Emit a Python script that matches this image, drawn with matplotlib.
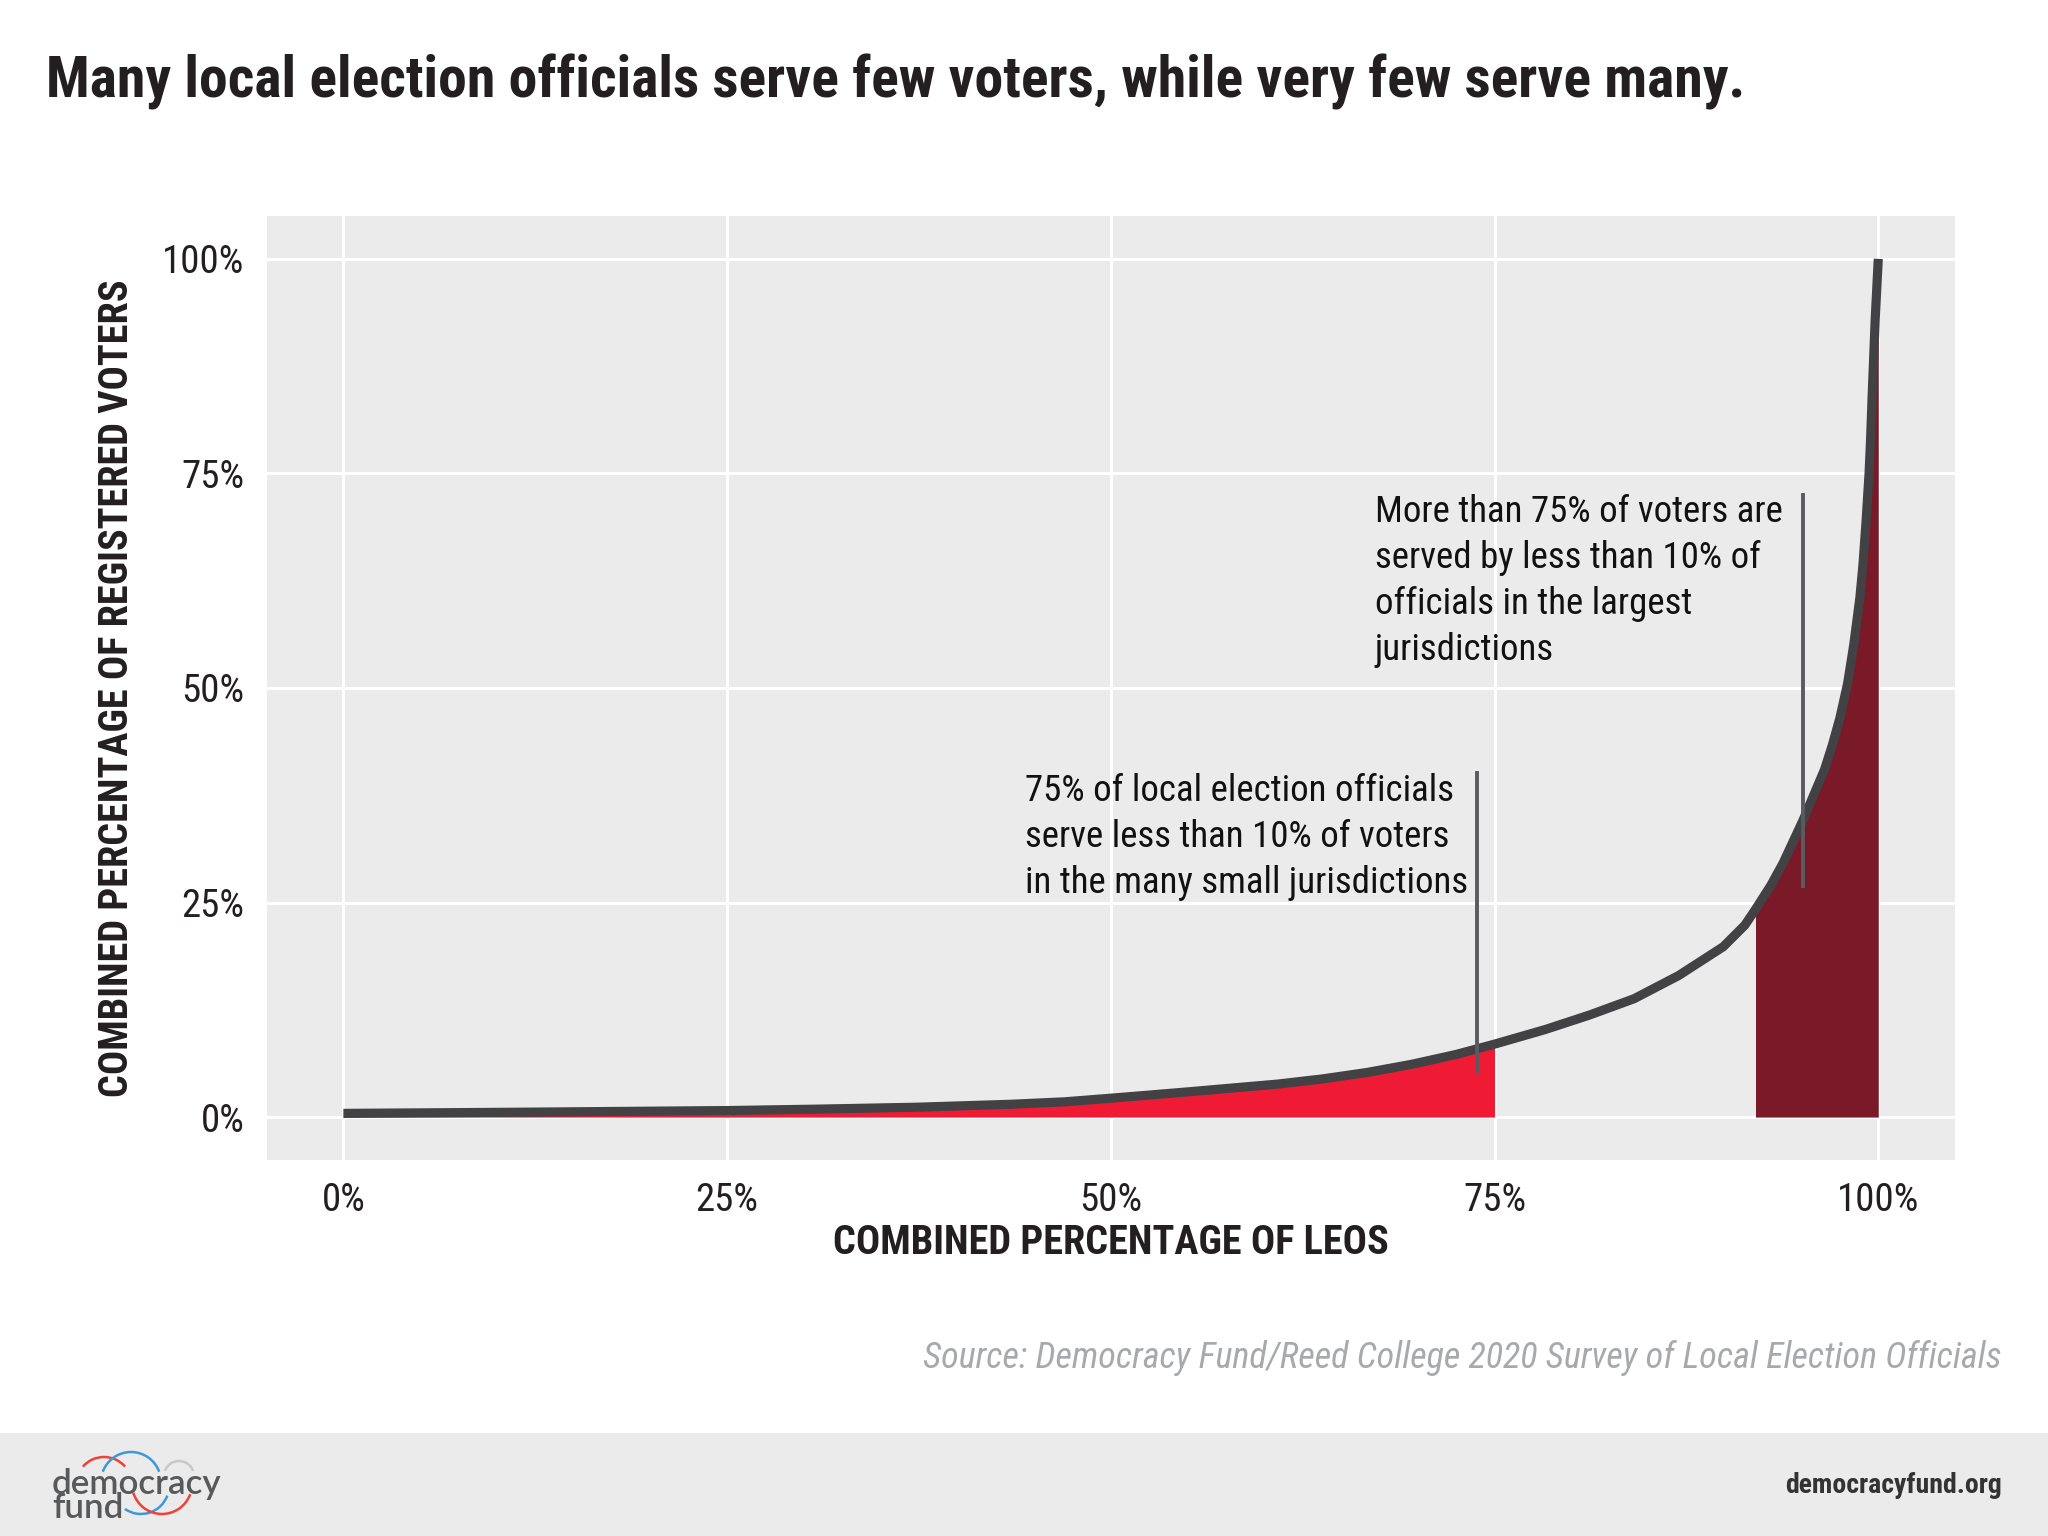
from matplotlib import pyplot as plt
from matplotlib import font_manager
from matplotlib.patches import Arc, Rectangle

# share of LEOs (x) vs share of registered voters (y)
leo_pct = [0, 12.5, 25, 31, 37.4, 43.6, 47, 50, 52.2, 55.1, 58, 60.9, 63.8,
           66.7, 69.6, 72.5, 75, 78.3, 81.2, 84.1, 87, 89.9, 91.3, 92, 93,
           93.8, 95.1, 96.5, 97.0, 97.5, 98.0, 98.4, 98.8, 99.0, 99.2, 99.4,
           99.5, 99.6, 99.8, 100]
voter_pct = [0.43, 0.58, 0.76, 0.93, 1.15, 1.5, 1.78, 2.2, 2.52, 2.95, 3.4,
             3.85, 4.45, 5.2, 6.15, 7.3, 8.5, 10.2, 11.9, 13.8, 16.5, 19.85,
             22.35, 24.2, 27.0, 29.6, 34.6, 40.5, 43.3, 46.5, 50.5, 55, 60.5,
             64.3, 69.3, 75, 79, 84, 93, 100]

small_cut = 75   # 75% of officials, smallest jurisdictions
large_cut = 92   # officials in the largest jurisdictions

ticks = [0, 25, 50, 75, 100]
tick_labels = ["0%", "25%", "50%", "75%", "100%"]

title = "Many local election officials serve few voters, while very few serve many."
note_small = "75% of local election officials\nserve less than 10% of voters\nin the many small jurisdictions"
note_large = "More than 75% of voters are\nserved by less than 10% of\nofficials in the largest\njurisdictions"
source = "Source: Democracy Fund/Reed College 2020 Survey of Local Election Officials"

names = {f.name for f in font_manager.fontManager.ttflist}

def pick(*cands):
    for c in cands:
        if c in names:
            return c
    return "DejaVu Sans"

narrow = pick("Roboto Condensed", "Liberation Sans Narrow", "Roboto")
logo_font = pick("Lato", "Open Sans")

RED = "#ef1b34"
DARK_RED = "#7a1a28"
LINE = "#424143"
PANEL = "#ebebeb"
INK = "#231f20"

fig = plt.figure(figsize=(10.24, 7.68), dpi=200)
ax = fig.add_axes([0.1302, 0.2448, 0.8244, 0.6146])
ax.set_facecolor(PANEL)
for s in ax.spines.values():
    s.set_visible(False)

ax.set_xlim(-5, 105)
ax.set_ylim(-5, 105)
ax.set_xticks(ticks)
ax.set_yticks(ticks)
ax.set_xticklabels(tick_labels)
ax.set_yticklabels(tick_labels)
ax.grid(True, color="white", linewidth=1.1)
ax.set_axisbelow(True)
ax.tick_params(length=0, pad=8, labelsize=14, colors=INK)
for lab in ax.get_xticklabels() + ax.get_yticklabels():
    lab.set_family(narrow)

# shaded areas under the curve
i1 = leo_pct.index(small_cut) + 1
ax.fill_between(leo_pct[:i1], 0, voter_pct[:i1], color=RED, linewidth=0)
i0 = leo_pct.index(large_cut)
ax.fill_between(leo_pct[i0:], 0, voter_pct[i0:], color=DARK_RED, linewidth=0)

ax.plot(leo_pct, voter_pct, color=LINE, linewidth=3.3, solid_capstyle="butt",
        solid_joinstyle="round")

# annotation leaders
ax.plot([73.85, 73.85], [5.4, 40.1], color="#5a5b5e", linewidth=1.4)
ax.plot([95.1, 95.1], [26.9, 72.5], color="#5a5b5e", linewidth=1.4)

ax.text(44.4, 40.1, note_small, ha="left", va="top", fontsize=13.3,
        family=narrow, color="#111111", linespacing=1.36)
ax.text(67.2, 72.6, note_large, ha="left", va="top", fontsize=13.3,
        family=narrow, color="#111111", linespacing=1.36)

ax.set_xlabel("COMBINED PERCENTAGE OF LEOS", fontsize=14.5, fontweight="bold",
              family=narrow, color=INK, va="center")
ax.xaxis.set_label_coords(0.5, -0.088)
ax.set_ylabel("COMBINED PERCENTAGE OF REGISTERED VOTERS", fontsize=14.5,
              fontweight="bold", family=narrow, color=INK, va="center")
ax.yaxis.set_label_coords(-0.0887, 0.5)

fig.text(0.0225, 0.9362, title, ha="left", va="baseline", fontsize=20.8,
         fontweight="bold", family=narrow, color=INK)
fig.text(0.9775, 0.1094, source, ha="right", va="baseline", fontsize=13,
         style="italic", family=narrow, color="#a7a9ac")

# footer band
fig.patches.append(Rectangle((0, 0), 1, 0.0671, transform=fig.transFigure,
                             facecolor=PANEL, edgecolor="none", zorder=-1))
fig.text(0.9775, 0.028, "democracyfund.org", ha="right", va="baseline",
         fontsize=10, fontweight="bold", family=narrow, color="#333333")

# logo wordmark (baseline of the last line)
fig.text(0.0254, 0.0117, "democracy\nfund", ha="left", va="baseline",
         fontsize=12.6, fontweight="semibold", family=logo_font,
         color="#58595b", linespacing=0.68)

# logo rings, drawn in figure pixel space
logo = fig.add_axes([0, 0, 1, 1], facecolor="none")
logo.set_xlim(0, 2048)
logo.set_ylim(0, 1536)
logo.axis("off")
rings = [((104, 51), 56, 41, 139, "#ef4136"),
         ((131, 54), 60, 20, 160, "#3a9ad9"),
         ((179, 60), 30, 20, 160, "#c7c8ca"),
         ((141, 50), 56, 235, 340, "#3a9ad9"),
         ((162, 52), 60, 197, 340, "#ef4136")]
for c, d, t1, t2, col in rings:
    logo.add_patch(Arc(c, d, d, theta1=t1, theta2=t2, color=col, linewidth=0.9))

fig.savefig("out.png", dpi=200, facecolor="white")
